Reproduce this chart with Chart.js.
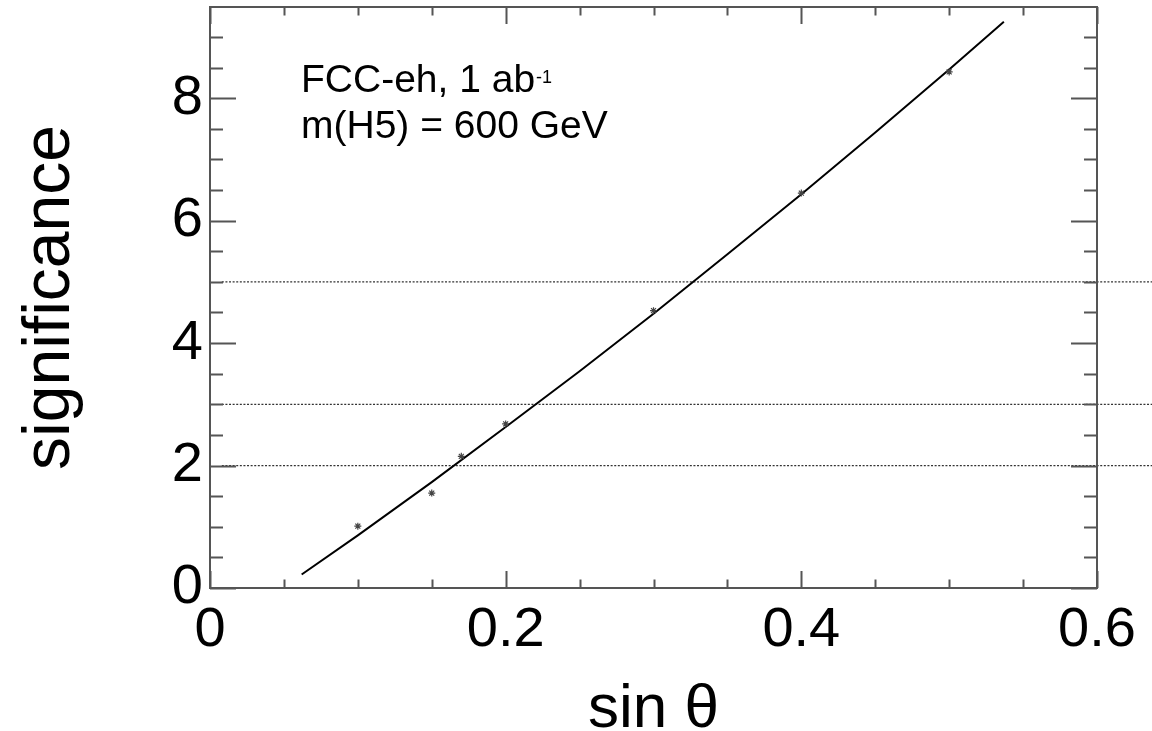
<!DOCTYPE html>
<html><head><meta charset="utf-8">
<script src="https://cdn.jsdelivr.net/npm/chart.js@4.4.1/dist/chart.umd.min.js"></script>
<style>html,body{margin:0;padding:0;background:#fff}canvas{display:block}</style>
</head><body>
<canvas id="c" width="1152" height="731"></canvas>
<script>
// ---- data ----
const sinTheta = [0.10, 0.15, 0.17, 0.20, 0.30, 0.40, 0.50];
const significance = [1.01, 1.55, 2.15, 2.68, 4.53, 6.45, 8.43];
const fitSinTheta = [0.062, 0.10, 0.15, 0.20, 0.25, 0.30, 0.35, 0.40, 0.45, 0.50, 0.537];
const fitSignificance = [0.22, 0.86, 1.73, 2.63, 3.54, 4.48, 5.45, 6.43, 7.44, 8.47, 9.25];
const thresholdLevels = [2, 3, 5];
const thresholdSpan = [0.008, 0.65];
const xTickLabels = ['0', '0.2', '0.4', '0.6'];
const yTickLabels = ['0', '2', '4', '6', '8'];
const xRange = [0, 0.6];
const yRange = [0, 9.49];
const annotationText = ['FCC-eh, 1 ab', 'm(H5) = 600 GeV'];
const annotationSup = '-1';
const xTitle = 'sin \u03B8';
const yTitle = 'significance';

const FONT = "'Liberation Sans', Arial, Helvetica, sans-serif";
Chart.defaults.font.family = FONT;
Chart.defaults.color = '#000';

const datasets = [];
thresholdLevels.forEach(lv => {
  datasets.push({
    type: 'line',
    data: thresholdSpan.map(x => ({x: x, y: lv})),
    borderColor: '#333', borderWidth: 1.3, borderDash: [2, 1.6],
    pointRadius: 0, clip: false, order: 3
  });
});
datasets.push({
  type: 'line',
  data: fitSinTheta.map((x, i) => ({x: x, y: fitSignificance[i]})),
  borderColor: '#000', borderWidth: 2, pointRadius: 0, tension: 0, order: 2
});
datasets.push({
  type: 'scatter',
  data: sinTheta.map((x, i) => ({x: x, y: significance[i]})),
  pointStyle: 'star', pointRadius: 3.5, borderColor: '#444', borderWidth: 1.2,
  backgroundColor: '#444', order: 1
});

const framePlugin = {
  id: 'frame',
  afterDatasetsDraw(chart) {
    const {ctx, chartArea: ca, scales: {x, y}} = chart;
    ctx.save();
    ctx.strokeStyle = '#555';
    ctx.lineWidth = 2;
    ctx.beginPath();
    for (let i = 0; i <= 12; i++) {
      const v = i * 0.05;
      const px = Math.round(x.getPixelForValue(v)) + 0.5;
      const len = (i % 4 === 0) ? 17 : 8.5;
      ctx.moveTo(px, ca.bottom); ctx.lineTo(px, ca.bottom - len);
      ctx.moveTo(px, ca.top); ctx.lineTo(px, ca.top + len);
    }
    for (let i = 0; i <= 18; i++) {
      const v = i * 0.5;
      const py = Math.round(y.getPixelForValue(v)) + 0.5;
      const len = (i % 4 === 0) ? 26 : 13;
      ctx.moveTo(ca.left, py); ctx.lineTo(ca.left + len, py);
      ctx.moveTo(ca.right, py); ctx.lineTo(ca.right - len, py);
    }
    ctx.stroke();
    ctx.strokeRect(ca.left, ca.top, ca.right - ca.left, ca.bottom - ca.top);
    // annotation
    ctx.fillStyle = '#000';
    ctx.textBaseline = 'alphabetic';
    ctx.textAlign = 'left';
    ctx.font = '39px ' + FONT;
    const tx = ca.left + 91;
    ctx.fillText(annotationText[0], tx, 92);
    const w = ctx.measureText(annotationText[0]).width;
    ctx.fillText(annotationText[1], tx, 138);
    ctx.font = '18px ' + FONT;
    ctx.fillText(annotationSup, tx + w + 1, 83);
    ctx.restore();
  }
};

new Chart(document.getElementById('c'), {
  type: 'scatter',
  data: {datasets},
  options: {
    responsive: false, animation: false,
    layout: {padding: {top: 7, right: 55, left: 0, bottom: 0}},
    plugins: {legend: {display: false}, tooltip: {enabled: false}},
    scales: {
      x: {
        type: 'linear', min: xRange[0], max: xRange[1],
        grid: {display: false, drawTicks: false},
        border: {display: false},
        ticks: {stepSize: 0.2, includeBounds: false, padding: 9, maxRotation: 0,
          font: {size: 56}, color: '#000',
          callback: (v, i) => xTickLabels[i]},
        title: {display: true, text: xTitle, font: {size: 62, lineHeight: 0.68}, padding: 0, color: '#000'},
        afterFit(s) { s.height = 143; s.paddingLeft = 0; s.paddingRight = 0; }
      },
      y: {
        type: 'linear', min: yRange[0], max: yRange[1],
        grid: {display: false, drawTicks: false},
        border: {display: false},
        ticks: {stepSize: 2, includeBounds: false, padding: 7,
          font: {size: 56}, color: '#000',
          callback: (v, i) => yTickLabels[i]},
        title: {display: true, text: yTitle, font: {size: 66, lineHeight: 1}, padding: {top: 18, bottom: 0}, color: '#000'},
        afterFit(s) { s.width = 210; s.paddingTop = 0; s.paddingBottom = 0; }
      }
    }
  },
  plugins: [framePlugin]
});
</script>
</body></html>
